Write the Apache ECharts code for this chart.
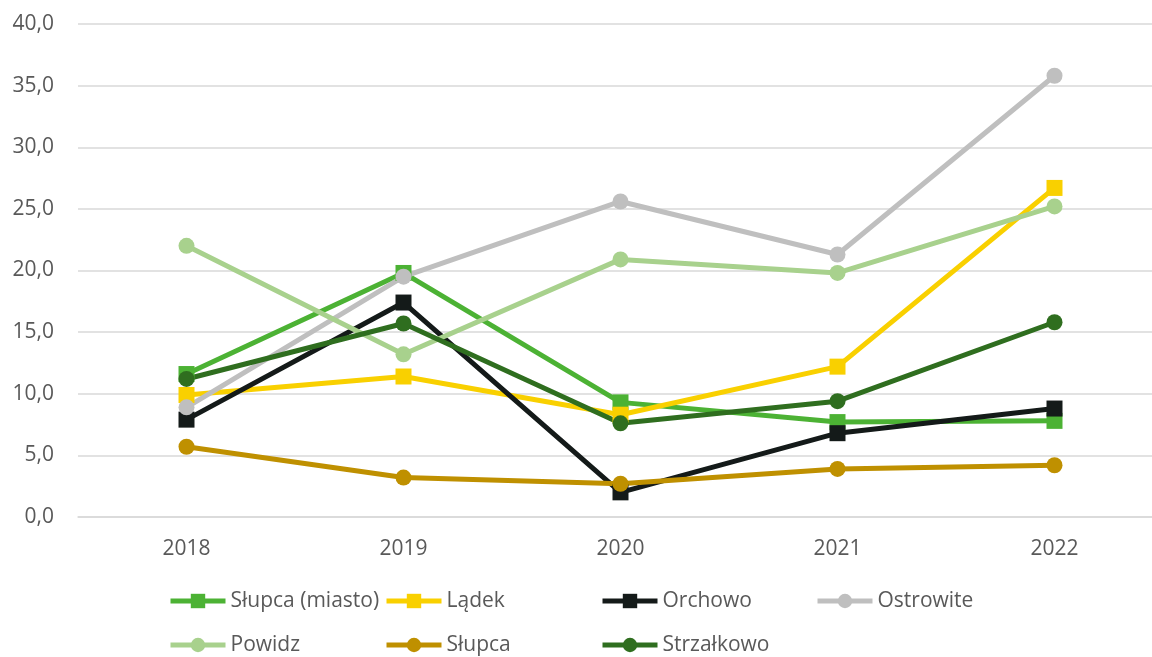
<!DOCTYPE html>
<html>
<head>
<meta charset="utf-8">
<script src="https://cdn.jsdelivr.net/npm/echarts@6/dist/echarts.min.js"></script>
<style>
  html, body { margin: 0; padding: 0; background: #fff; overflow: hidden; }
  #chart { width: 1164px; height: 657px; }
</style>
</head>
<body>
<div id="chart"></div>
<script>
// Categories (years)
const years = ['2018', '2019', '2020', '2021', '2022'];

// Value axis ticks
const yTicks = [0, 5, 10, 15, 20, 25, 30, 35, 40];

// Series values per municipality
const slupcaMiasto = [11.6, 19.8, 9.3, 7.7, 7.8];
const ladek        = [9.9, 11.4, 8.3, 12.2, 26.7];
const orchowo      = [7.9, 17.4, 2.0, 6.8, 8.8];
const ostrowite    = [8.9, 19.5, 25.6, 21.3, 35.8];
const powidz       = [22.0, 13.2, 20.9, 19.8, 25.2];
const slupca       = [5.7, 3.2, 2.7, 3.9, 4.2];
const strzalkowo   = [11.2, 15.7, 7.6, 9.4, 15.8];

const seriesDefs = [
  { name: 'Słupca (miasto)', data: slupcaMiasto, color: '#4CB234', symbol: 'rect' },
  { name: 'Lądek',           data: ladek,        color: '#F9D000', symbol: 'rect' },
  { name: 'Orchowo',         data: orchowo,      color: '#141A19', symbol: 'rect' },
  { name: 'Ostrowite',       data: ostrowite,    color: '#BFBFBF', symbol: 'circle' },
  { name: 'Powidz',          data: powidz,       color: '#A8D18D', symbol: 'circle' },
  { name: 'Słupca',          data: slupca,       color: '#BF9000', symbol: 'circle' },
  { name: 'Strzałkowo',      data: strzalkowo,   color: '#2F6E1F', symbol: 'circle' }
];

// Legend slots: left edge of icon, vertical centre
const legendSlots = [
  [168, 601], [384, 601], [600, 601], [815, 601],
  [168, 645], [384, 645], [600, 645]
];

const FONT = 'Open Sans';
const TEXT_COLOR = '#595959';
const FONT_SIZE = 21;

const chart = echarts.init(document.getElementById('chart'), null, { renderer: 'canvas' });

const legends = seriesDefs.map((s, i) => ({
  data: [s.name],
  left: legendSlots[i][0],
  top: legendSlots[i][1] - 12,
  itemWidth: 55,
  itemHeight: 18,
  itemGap: 0,
  padding: 0,
  lineStyle: { width: 5 },
  textStyle: {
    fontFamily: FONT, fontSize: FONT_SIZE, color: TEXT_COLOR,
    lineHeight: 24, padding: [0, 0, 0, 0]
  }
}));

chart.setOption({
  animation: false,
  backgroundColor: '#ffffff',
  // the plot runs a little past the right edge of the visible page
  grid: { left: 78, top: 24, right: 1, bottom: 140, containLabel: false, outerBoundsMode: 'none' },
  legend: legends,
  xAxis: {
    type: 'category',
    data: years,
    boundaryGap: true,
    axisLine: { show: true, lineStyle: { color: '#D9D9D9', width: 1.5 } },
    axisTick: { show: false },
    axisLabel: { fontFamily: FONT, fontSize: FONT_SIZE, color: TEXT_COLOR, margin: 22 }
  },
  yAxis: {
    type: 'value',
    min: yTicks[0],
    max: yTicks[yTicks.length - 1],
    interval: yTicks[1] - yTicks[0],
    axisLine: { show: false },
    axisTick: { show: false },
    splitLine: { lineStyle: { color: '#D9D9D9', width: 1.5 } },
    axisLabel: {
      fontFamily: FONT, fontSize: FONT_SIZE, color: TEXT_COLOR, margin: 24,
      formatter: v => v.toFixed(1).replace('.', ',')
    }
  },
  series: seriesDefs.map(s => ({
    name: s.name,
    type: 'line',
    data: s.data,
    symbol: s.symbol,
    symbolSize: 16,
    showSymbol: true,
    color: s.color,
    lineStyle: { width: 5, color: s.color },
    itemStyle: { color: s.color, borderWidth: 0 }
  }))
});
</script>
</body>
</html>
